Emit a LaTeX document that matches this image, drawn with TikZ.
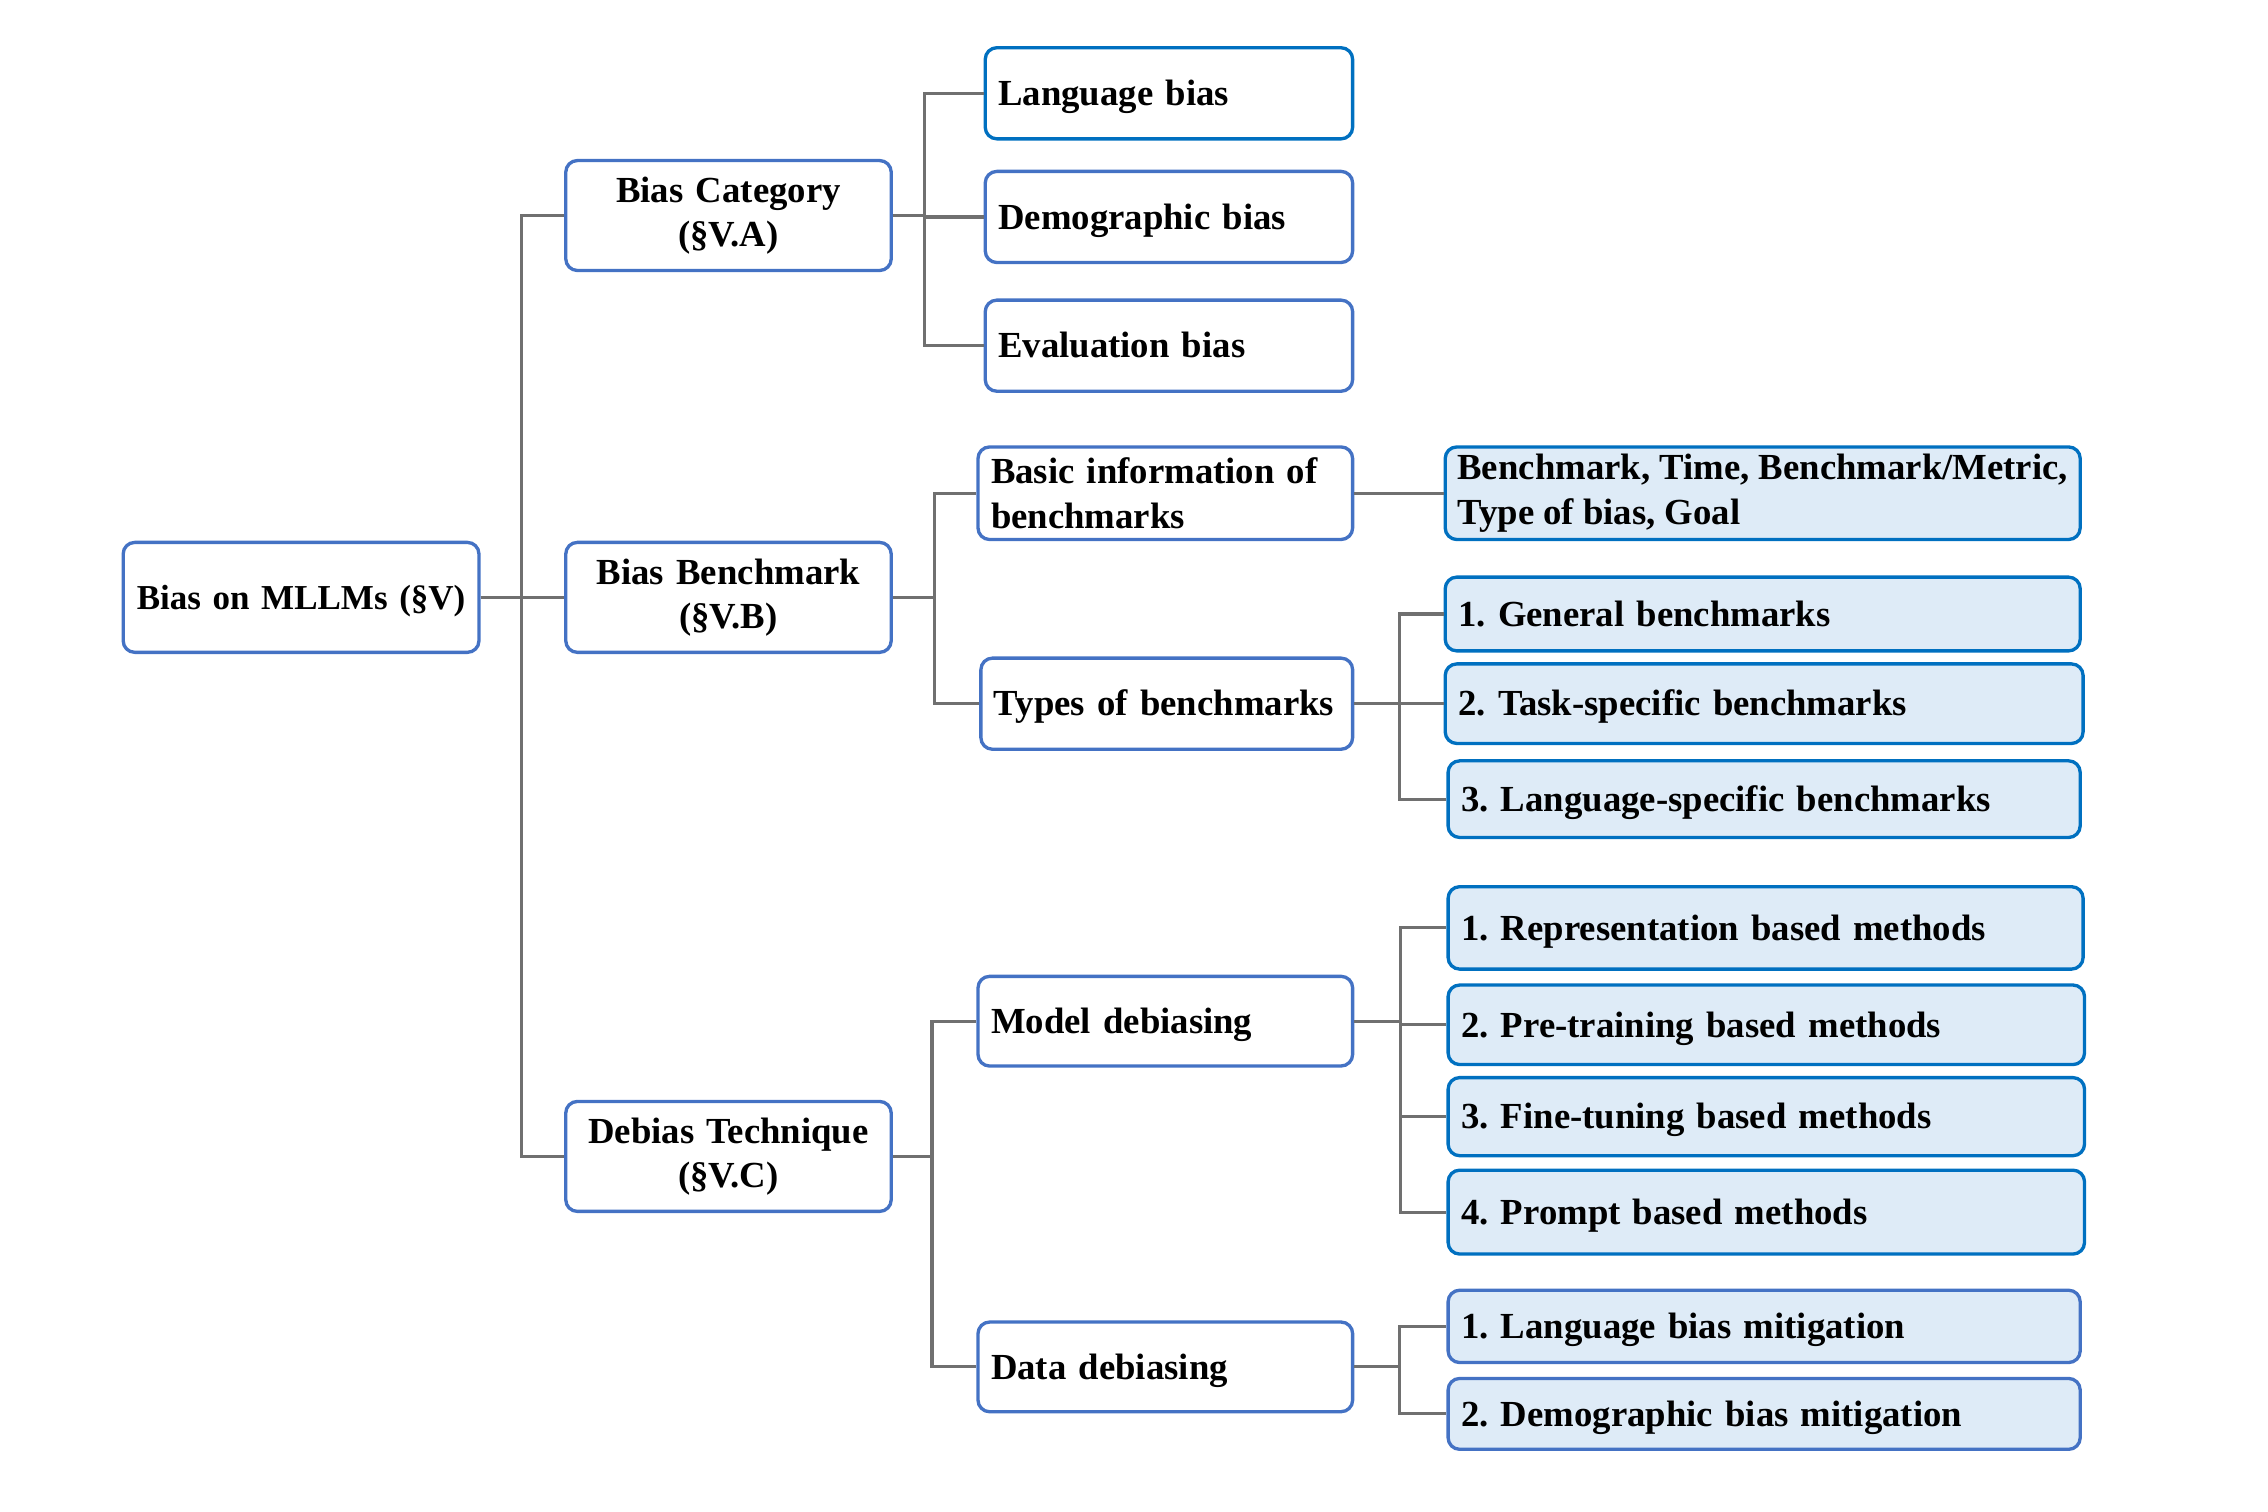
\documentclass[tikz,border=0pt]{standalone}
\usepackage{fontspec}
\setmainfont{Liberation Serif}
\usepackage{tikz}
\definecolor{boxblue}{RGB}{68,114,196}
\definecolor{darkblue}{RGB}{0,112,192}
\definecolor{leafblue}{RGB}{222,235,247}
\definecolor{linkgray}{RGB}{112,112,112}

\begin{document}
\begin{tikzpicture}[x=1pt, y=-1pt,
  box/.style={draw=boxblue, line width=2.3pt, rounded corners=8pt, fill=white,
    anchor=west, inner xsep=9pt, inner ysep=0pt, align=left,
    font=\bfseries\frenchspacing\fontsize{25.4}{30.5}\selectfont},
  one/.style={text height=20pt, text depth=3pt},
  leaf/.style={box, one, fill=leafblue},
  dark/.style={draw=darkblue},
  link/.style={draw=linkgray, line width=2.2pt}]
\useasboundingbox (0,0) rectangle (1568,1045.3);
\node[box, one, inner xsep=5pt, text width=236, minimum height=76, align=center,
  font=\bfseries\fontsize{24.2}{29}\selectfont] (root) at (84,413) {Bias on MLLMs (§V)};
\node[box, text width=207, minimum height=76, align=center] (cat) at (390,149) {Bias Category\\(§V.A)};
\node[box, text width=207, minimum height=76, align=center] (bench) at (390,413) {Bias Benchmark\\(§V.B)};
\node[box, text width=207, minimum height=76, align=center] (debias) at (390,799.5) {Debias Technique\\(§V.C)};
\node[box, one, dark, text width=236, minimum height=63] (lang) at (680,64.5) {Language bias};
\node[box, one, text width=236, minimum height=63] (demo) at (680,150) {Demographic bias};
\node[box, one, text width=236, minimum height=63] (eval) at (680,239) {Evaluation bias};
\node[box, text width=241, minimum height=64] (basic) at (675,341) {Basic information of\\benchmarks};
\node[box, one, text width=239, minimum height=63] (types) at (677,486.5) {Types of benchmarks};
\node[box, dark, fill=leafblue, inner xsep=8pt, minimum width=439, minimum height=64] (info) at (998,341)
  {Benchmark, Time, Benchmark/Metric,\\Type of bias, Goal};
\node[leaf, dark, text width=421, minimum height=51] (gen) at (998,424.5) {1. General benchmarks};
\node[leaf, dark, text width=423, minimum height=55] (task) at (998,486.5) {2. Task-specific benchmarks};
\node[leaf, dark, text width=419, minimum height=53] (langspec) at (1000,552.5) {3. Language-specific benchmarks};
\node[box, one, text width=241, minimum height=62] (model) at (675,706) {Model debiasing};
\node[box, one, text width=241, minimum height=62] (data) at (675,945) {Data debiasing};
\node[leaf, dark, text width=421, minimum height=57] (repr) at (1000,641.5) {1. Representation based methods};
\node[leaf, dark, text width=422, minimum height=55] (pre) at (1000,708.5) {2. Pre-training based methods};
\node[leaf, dark, text width=422, minimum height=54] (fine) at (1000,772) {3. Fine-tuning based methods};
\node[leaf, dark, text width=422, minimum height=58] (prompt) at (1000,838) {4. Prompt based methods};
\node[leaf, text width=419, minimum height=50] (lmit) at (1000,917) {1. Language bias mitigation};
\node[leaf, text width=419, minimum height=49] (dmit) at (1000,977.5) {2. Demographic bias mitigation};

\foreach \c in {cat,bench,debias}
  \draw[link] (root.east) -- ++(28,0) |- (\c.west);
\foreach \c in {lang,demo,eval}
  \draw[link] (cat.east) -- ++(22,0) |- (\c.west);
\foreach \c in {basic,types}
  \draw[link] (bench.east) -- ++(29,0) |- (\c.west);
\draw[link] (basic.east) -- (info.west);
\foreach \c in {gen,task,langspec}
  \draw[link] (types.east) -- ++(31,0) |- (\c.west);
\foreach \c in {model,data}
  \draw[link] (debias.east) -- ++(27,0) |- (\c.west);
\foreach \c in {repr,pre,fine,prompt}
  \draw[link] (model.east) -- ++(32,0) |- (\c.west);
\foreach \c in {lmit,dmit}
  \draw[link] (data.east) -- ++(31,0) |- (\c.west);
\end{tikzpicture}
\end{document}
